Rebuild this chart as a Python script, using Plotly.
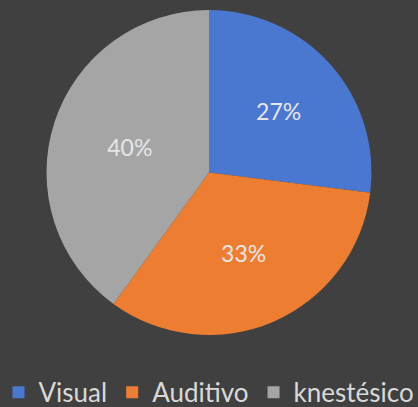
import plotly.graph_objects as go

labels = ["Visual", "Auditivo", "knestésico"]
values = [27, 33, 40]
colors = ["#4A77D0", "#ED7D31", "#A5A5A5"]

fig = go.Figure(go.Pie(
    labels=labels, values=values, sort=False, direction="clockwise", rotation=0,
    marker=dict(colors=colors, line=dict(width=0)),
    textinfo="percent", texttemplate="%{percent:.0%}",
    textposition="inside", insidetextorientation="horizontal",
    textfont=dict(color="#E6E6E6", size=23, family="Lato"),
    domain=dict(x=[46/418, 372/418], y=[72/407, 397/407]),
    hoverinfo="skip",
))
fig.update_layout(
    width=418, height=407, margin=dict(l=0, r=0, t=0, b=0, autoexpand=False),
    paper_bgcolor="#404040", plot_bgcolor="#404040",
    showlegend=True,
    legend=dict(orientation="h", x=0.5, xanchor="center", y=-0.022, yanchor="bottom",
                font=dict(color="#D9D9D9", size=26, family="Lato"),
                itemwidth=30, tracegroupgap=0),
)
fig.write_html("out.html", config={"displayModeBar": False})
with open("out.html", encoding="utf-8") as f:
    html = f.read()
html = html.replace("<head>", "<head><style>html,body{margin:0;padding:0;background:#404040;overflow:hidden}</style>", 1)
with open("out.html", "w", encoding="utf-8") as f:
    f.write(html)
